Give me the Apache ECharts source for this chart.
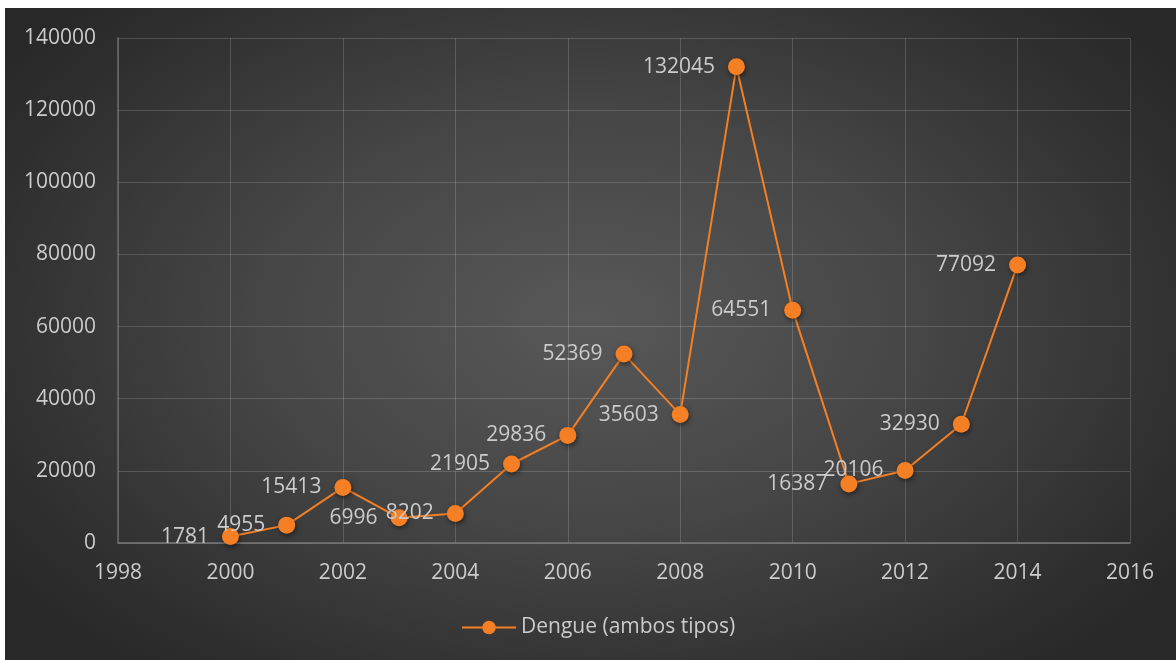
<!DOCTYPE html>
<html>
<head>
<meta charset="utf-8">
<script src="https://cdn.jsdelivr.net/npm/echarts@6/dist/echarts.min.js"></script>
<style>
  html, body { margin: 0; padding: 0; background: #ffffff; }
  #bg {
    position: absolute; left: 5px; top: 8px; width: 1171px; height: 652px;
    background: radial-gradient(ellipse 62% 70% at 50% 48%, #585858 0%, #464646 45%, #2f2f2f 85%, #282828 100%);
  }
  #chart { position: absolute; left: 0; top: 0; width: 1176px; height: 660px; }
</style>
</head>
<body>
<div id="bg"></div>
<div id="chart"></div>
<script>
// Casos de dengue por año
const years = [2000, 2001, 2002, 2003, 2004, 2005, 2006, 2007, 2008, 2009, 2010, 2011, 2012, 2013, 2014];
const cases = [1781, 4955, 15413, 6996, 8202, 21905, 29836, 52369, 35603, 132045, 64551, 16387, 20106, 32930, 77092];
const seriesName = 'Dengue (ambos tipos)';

const textColor = '#cbcbcb';
const fontFamily = '"Open Sans", "Noto Sans", sans-serif';
const orange = '#f47f24';

const chart = echarts.init(document.getElementById('chart'), null, { renderer: 'canvas' });
chart.setOption({
  backgroundColor: 'transparent',
  animation: false,
  grid: { left: 118, right: 46, top: 38, bottom: 117, containLabel: false },
  xAxis: {
    type: 'value', min: 1998, max: 2016, interval: 2,
    axisLine: { show: true, lineStyle: { color: '#7a7a7a', width: 1.5 } },
    axisTick: { show: false },
    axisLabel: { color: textColor, fontSize: 21, fontFamily, margin: 20, formatter: v => String(v) },
    splitLine: { show: true, lineStyle: { color: 'rgba(255,255,255,0.16)', width: 1 } }
  },
  yAxis: {
    type: 'value', min: 0, max: 140000, interval: 20000,
    axisLine: { show: true, lineStyle: { color: '#6a6a6a', width: 1.5 } },
    axisTick: { show: false },
    axisLabel: { color: textColor, fontSize: 21, fontFamily, margin: 22, formatter: v => String(v) },
    splitLine: { show: true, lineStyle: { color: 'rgba(255,255,255,0.16)', width: 1 } }
  },
  legend: {
    bottom: 17, left: 456,
    itemWidth: 54, itemHeight: 17, itemGap: 8,
    textStyle: { color: textColor, fontSize: 21, fontFamily },
    data: [seriesName]
  },
  series: [{
    name: seriesName,
    type: 'line',
    data: years.map((y, i) => [y, cases[i]]),
    symbol: 'circle',
    symbolSize: 17,
    lineStyle: { color: orange, width: 2 },
    itemStyle: {
      color: orange,
      shadowColor: 'rgba(0,0,0,0.5)', shadowBlur: 5, shadowOffsetX: 1, shadowOffsetY: 2
    },
    label: {
      show: true, position: 'left', distance: 13,
      color: textColor, fontSize: 21, fontFamily,
      formatter: p => String(p.value[1])
    },
    z: 3
  }]
});
</script>
</body>
</html>
